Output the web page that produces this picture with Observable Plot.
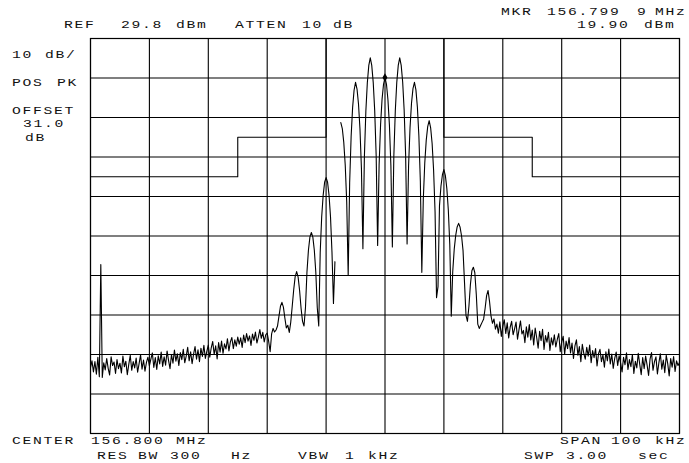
<!DOCTYPE html>
<html><head><meta charset="utf-8">
<script src="https://cdn.jsdelivr.net/npm/d3@7"></script>
<script src="https://cdn.jsdelivr.net/npm/@observablehq/plot@0.6"></script>
<style>
html,body{margin:0;padding:0;background:#fff;}
#wrap{position:relative;width:689px;height:463px;overflow:hidden;}
#ann{position:absolute;left:0;top:0;pointer-events:none;}
#ann text{font-family:"Liberation Mono","DejaVu Sans Mono",monospace;font-size:11.5px;fill:#111;letter-spacing:1.3px;}
</style></head><body><div id="wrap"></div>
<script>
// Sweep: 401 points, center 156.800 MHz, span 100 kHz (offsets in kHz)
const freqStartKHz = -50;
const freqStepKHz = 0.25;
// Trace levels in dBm (null = no trace drawn)
const levels = [
-53.5,-51.8,-54.6,-52.0,-55.2,-50.9,-55.8,-27.4,-56.0,-52.3,
-54.1,-51.2,-53.7,-55.4,-50.8,-53.0,-52.1,-55.0,-51.5,-53.8,
-52.4,-54.9,-50.6,-53.3,-51.9,-55.3,-52.7,-50.4,-54.2,-52.0,
-53.6,-51.1,-54.7,-52.5,-50.3,-53.9,-51.6,-54.4,-52.2,-50.9,
-53.1,-51.4,-49.8,-53.5,-51.0,-54.0,-50.5,-52.6,-49.6,-53.2,
-50.8,-52.9,-49.3,-51.7,-53.8,-50.2,-52.4,-49.1,-51.9,-50.0,
-53.0,-49.7,-51.5,-48.9,-52.3,-50.6,-48.4,-51.8,-49.5,-52.5,
-50.1,-48.2,-51.4,-49.0,-52.0,-48.6,-50.7,-47.9,-51.2,-49.4,
-47.8,-50.9,-48.5,-46.9,-50.2,-48.0,-51.3,-47.2,-49.6,-46.8,
-49.9,-47.5,-48.8,-46.2,-49.3,-47.0,-45.9,-48.7,-46.5,-48.1,
-45.8,-47.6,-46.0,-48.4,-45.3,-47.2,-44.9,-46.8,-45.5,-47.9,
-45.0,-46.6,-44.5,-47.3,-45.8,-43.9,-46.1,-44.6,-47.0,-45.2,
-44.8,-46.9,-49.5,-45.0,-43.6,-44.5,-44.0,-43.0,-40.5,-38.0,
-37.0,-38.2,-41.0,-43.5,-42.8,-44.6,-42.0,-38.0,-33.8,-30.5,
-29.2,-30.6,-34.0,-38.5,-41.8,-43.0,-38.3,-29.3,-23.8,-20.5,
-19.3,-20.5,-23.8,-29.3,-38.3,-43.0,-24.4,-15.4,-9.9,-6.6,
-5.4,-6.6,-9.9,-15.4,-24.4,-37.3,-26.7,null,null,null,
8.5,7.0,3.5,-2.3,-11.6,-30.2,-6.7,5.0,12.3,16.7,
18.7,17.0,13.2,6.9,-3.2,-23.4,-0.2,11.4,18.6,23.0,
24.9,23.0,18.7,11.6,0.2,-22.6,-2.2,8.0,14.4,18.2,
19.9,18.2,14.3,7.9,-2.4,-23.0,0.0,11.5,18.7,23.0,
24.9,23.0,18.8,11.7,0.4,-22.2,-2.6,7.2,13.4,17.1,
18.7,16.8,12.4,5.2,-6.3,-29.4,-11.0,-1.8,4.0,7.5,
9.0,7.2,3.2,-3.5,-14.1,-35.8,-33.0,-12.5,-7.6,-4.7,
-3.4,-4.9,-8.2,-13.6,-22.4,-40.5,-29.2,-23.6,-20.1,-17.9,
-17.0,-18.0,-20.2,-23.9,-32.0,-40.3,-41.8,-38.0,-32.5,-29.0,
-28.1,-29.5,-35.0,-42.5,-43.6,-42.8,-42.0,-41.2,-38.5,-35.3,
-34.0,-36.8,-40.5,-42.3,-41.2,-43.8,-42.5,-44.8,-41.9,-45.6,
-43.0,-41.4,-44.9,-42.2,-46.0,-43.3,-41.8,-45.2,-43.7,-42.0,
-46.3,-43.9,-41.7,-45.0,-44.1,-47.2,-43.2,-45.8,-42.6,-46.5,
-44.0,-47.8,-43.5,-45.9,-48.6,-44.3,-46.7,-43.8,-48.9,-45.4,
-47.1,-44.6,-49.2,-46.0,-47.8,-45.2,-48.3,-46.4,-44.9,-49.5,
-47.0,-45.6,-50.1,-46.8,-48.7,-45.9,-49.8,-47.3,-51.2,-48.0,
-46.5,-50.4,-48.2,-52.0,-47.6,-49.9,-51.4,-48.4,-50.6,-47.8,
-52.3,-49.2,-51.0,-48.7,-53.1,-50.0,-48.9,-52.0,-50.3,-53.4,
-49.5,-51.8,-48.8,-52.6,-50.1,-53.7,-51.2,-49.6,-53.0,-50.5,
-52.4,-54.6,-50.9,-52.8,-49.8,-54.0,-51.5,-53.3,-50.2,-55.0,
-51.9,-53.6,-49.9,-52.7,-55.3,-51.0,-53.8,-50.6,-52.9,-55.5,
-51.4,-49.7,-54.2,-52.0,-50.8,-55.1,-52.3,-50.0,-53.9,-51.6,
-54.8,-50.4,-52.5,-55.6,-51.2,-53.4,-50.7,-54.5,-51.8,-53.0,
-52.2
];
// Graticule (10 kHz/div, 10 dB/div from REF 29.8 dBm)
const xTicks = [-50,-40,-30,-20,-10,0,10,20,30,40,50];
const yTicks = [29.8,19.8,9.8,-0.2,-10.2,-20.2,-30.2,-40.2,-50.2,-60.2,-70.2];
// Limit-line mask
const maskFreq  = [-50,-25,-25,-10,-10,10,10,25,25,50];
const maskLevel = [-5.2,-5.2,4.8,4.8,29.8,29.8,4.8,4.8,-5.2,-5.2];
// Marker
const markerFreq = [-0.01];
const markerLevel = [19.9];
// Annotation texts
const annTexts = [
 ["REF",64,28],["29.8",121,28],["dBm",176,28],["ATTEN",235,28],["10",302,28],["dB",333,28],
 ["MKR",501,15],["156.799",547,15],["9",637,15],["MHz",655,15],["19.90",577,28],["dBm",644,28],
 ["10",12,58],["dB/",45,58],["POS",12,86],["PK",57,86],["OFFSET",12,114],["31.0",23,127],["dB",25,141],
 ["CENTER",12,444],["156.800",91,444],["MHz",176,444],["SPAN",560,444],["100",611,444],["kHz",655,444],
 ["RES",97,459],["BW",138,459],["300",170,459],["Hz",231,459],["VBW",298,459],["1",345,459],["kHz",368,459],
 ["SWP",524,459],["3.00",566,459],["sec",638,459]
];

const trace = levels.map((v,i)=>({f: freqStartKHz + i*freqStepKHz, level: v==null?NaN:v}));
const mask = maskFreq.map((f,i)=>({f, level: maskLevel[i]}));
const marker = markerFreq.map((f,i)=>({f, level: markerLevel[i]}));

const chart = Plot.plot({
  width: 689, height: 463,
  marginLeft: 90, marginRight: 10, marginTop: 38, marginBottom: 30,
  x: {domain: [-50,50], axis: null},
  y: {domain: [-70.2,29.8], axis: null},
  style: {background: "#fff"},
  marks: [
    Plot.ruleX(xTicks, {stroke: "#000", strokeWidth: 1.1}),
    Plot.ruleY(yTicks, {stroke: "#000", strokeWidth: 1.1}),
    Plot.line(mask, {x: "f", y: "level", stroke: "#000", strokeWidth: 1.1}),
    Plot.line(trace, {x: "f", y: "level", stroke: "#000", strokeWidth: 1.1}),
    Plot.dot(marker, {x: "f", y: "level", symbol: "diamond", r: 2.6, fill: "#000"}),
    Plot.frame({stroke: "#000", strokeWidth: 1.2})
  ]
});
const wrap = document.getElementById("wrap");
wrap.appendChild(chart);

const ns = "http://www.w3.org/2000/svg";
const ann = document.createElementNS(ns, "svg");
ann.setAttribute("id","ann");
ann.setAttribute("width", 689);
ann.setAttribute("height", 463);
for (const [t,x,y] of annTexts) {
  const el = document.createElementNS(ns, "text");
  el.setAttribute("transform", `translate(${x},${y}) scale(1.28,1)`);
  el.textContent = t;
  ann.appendChild(el);
}
wrap.appendChild(ann);
</script></body></html>
